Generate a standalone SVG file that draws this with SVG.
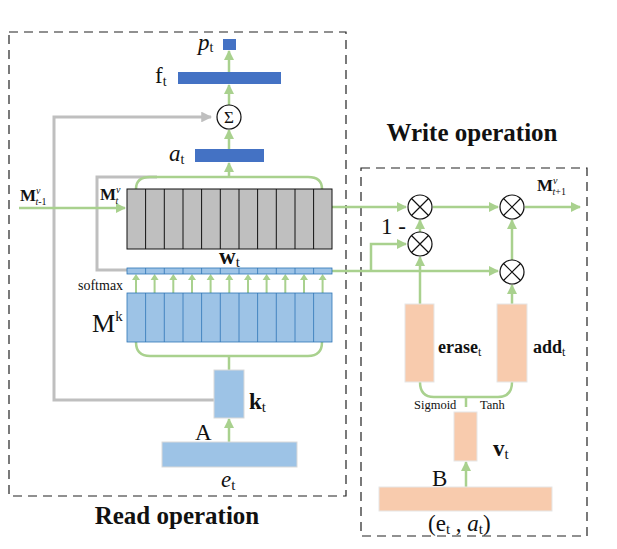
<svg xmlns="http://www.w3.org/2000/svg" width="617" height="549" viewBox="0 0 617 549" font-family="'Liberation Serif','Times New Roman',serif">
<style>
text{font-family:"Liberation Serif","Times New Roman",serif;fill:#111}
.b{font-weight:bold}
.g{stroke:#A9D18E;stroke-width:2.5;fill:none}
.gr{stroke:#BFBFBF;stroke-width:3;fill:none}
.dash{fill:none;stroke:#222;stroke-width:1.2;stroke-dasharray:9,6}
.dk{fill:#4472C4}
.lb{fill:#9DC3E6;stroke:#2E75B6;stroke-width:0.8}
.gy{fill:#BFBFBF;stroke:#111;stroke-width:1}
.pe{fill:#F8CBAD;stroke:#E6E6E6;stroke-width:1}
.op{fill:#fff;stroke:#111;stroke-width:1.2}
</style>
<defs>
<marker id="ag" viewBox="0 0 10 10" refX="9" refY="5" markerWidth="4" markerHeight="4" orient="auto" markerUnits="strokeWidth"><path d="M0,0L10,5L0,10z" fill="#A9D18E"/></marker>
<marker id="ay" viewBox="0 0 10 10" refX="9" refY="5" markerWidth="3.6" markerHeight="3.6" orient="auto" markerUnits="strokeWidth"><path d="M0,0L10,5L0,10z" fill="#BFBFBF"/></marker>
<g id="otimes"><circle r="12" class="op"/><path d="M-8.5,-8.5L8.5,8.5M8.5,-8.5L-8.5,8.5" stroke="#111" stroke-width="1.2"/></g>
</defs>

<rect class="dash" x="9" y="32" width="337" height="464"/>
<rect class="dash" x="361" y="168" width="226" height="368"/>
<text class="b" x="177" y="524" font-size="25" text-anchor="middle">Read operation</text>
<text class="b" x="472" y="141" font-size="25" text-anchor="middle">Write operation</text>

<g id="connectors">
<path class="gr" d="M214,400H54V117H211" marker-end="url(#ay)"/>
<path class="gr" d="M157,177H97V270H127"/>
<path class="g" d="M19,208H125" marker-end="url(#ag)"/>
<path class="g" d="M136,189Q136,177 150,177H308Q322,177 322,189"/>
<path class="g" d="M229,177V163" marker-end="url(#ag)"/>
<path class="g" d="M229,149V130" marker-end="url(#ag)"/>
<path class="g" d="M229,105V85" marker-end="url(#ag)"/>
<path class="g" d="M229,72V51" marker-end="url(#ag)"/>
<path class="g" d="M136,342Q136,356 150,356H308Q322,356 322,342"/>
<path class="g" d="M229,356V370"/>
<path class="g" d="M229,442V419" marker-end="url(#ag)"/>
<path d="M136,293V276M154.6,293V276M173.3,293V276M192,293V276M210.6,293V276M229.3,293V276M248,293V276M266.6,293V276M285.3,293V276M304,293V276M322.6,293V276" stroke="#A9D18E" stroke-width="2" fill="none"/>
<path fill="#A9D18E" d="M132,280L136,274L140,280zM150.6,280L154.6,274L158.6,280zM169.3,280L173.3,274L177.3,280zM188,280L192,274L196,280zM206.6,280L210.6,274L214.6,280zM225.3,280L229.3,274L233.3,280zM244,280L248,274L252,280zM262.6,280L266.6,274L270.6,280zM281.3,280L285.3,274L289.3,280zM300,280L304,274L308,280zM318.6,280L322.6,274L326.6,280z"/>
<path class="g" d="M332,207H406" marker-end="url(#ag)"/>
<path class="g" d="M332,271H498" marker-end="url(#ag)"/>
<path class="g" d="M371,271V244H406" marker-end="url(#ag)"/>
<path class="g" d="M420,232V220" marker-end="url(#ag)"/>
<path class="g" d="M433,207H498" marker-end="url(#ag)"/>
<path class="g" d="M525,207H580" marker-end="url(#ag)"/>
<path class="g" d="M512,260V220" marker-end="url(#ag)"/>
<path class="g" d="M420,304V257" marker-end="url(#ag)"/>
<path class="g" d="M512,304V285" marker-end="url(#ag)"/>
<path class="g" d="M420,382Q420,397 434,397H498Q512,397 512,382"/>
<path class="g" d="M466,397V407"/>
<path class="g" d="M466,487V462" marker-end="url(#ag)"/>
</g>

<g id="p_t"><rect class="dk" x="223" y="39" width="13" height="11"/><text x="198" y="50" font-size="23" font-style="italic">p<tspan font-size="14" font-style="normal" dy="2">t</tspan></text></g>
<g id="f_t"><rect class="dk" x="178" y="72" width="103" height="12"/><text x="155" y="83" font-size="23">f<tspan font-size="14" dy="3">t</tspan></text></g>
<g id="sum"><circle cx="229" cy="117" r="12" class="op"/><text x="229" y="123" font-size="17" text-anchor="middle">Σ</text></g>
<g id="a_t"><rect class="dk" x="195" y="149" width="69" height="13"/><text x="169" y="161" font-size="23" font-style="italic">a<tspan font-size="14" font-style="normal" dy="3">t</tspan></text></g>

<g id="Mv">
<rect class="gy" x="127" y="189" width="205" height="60"/>
<path d="M145.6,189V249M164.3,189V249M183,189V249M201.6,189V249M220.3,189V249M239,189V249M257.6,189V249M276.3,189V249M295,189V249M313.6,189V249" stroke="#111" stroke-width="1"/>
<text x="100" y="200" font-size="17" font-weight="bold">M<tspan font-size="10" font-weight="normal" font-style="italic" dx="0" dy="-7">v</tspan><tspan font-size="10" font-weight="normal" font-style="italic" dx="-5" dy="11">t</tspan></text>
<text x="20" y="201" font-size="17" font-weight="bold">M<tspan font-size="10" font-weight="normal" font-style="italic" dx="0" dy="-7">v</tspan><tspan font-size="10" font-weight="normal" dx="-5" dy="11"><tspan font-style="italic">t</tspan>-1</tspan></text>
</g>
<g id="w_t">
<rect x="127" y="268" width="205" height="6" fill="#9DC3E6" stroke="#2E75B6" stroke-width="0.8"/>
<path d="M145.6,268V274M164.3,268V274M183,268V274M201.6,268V274M220.3,268V274M239,268V274M257.6,268V274M276.3,268V274M295,268V274M313.6,268V274" stroke="#2E75B6" stroke-width="0.8"/>
<text class="b" x="219" y="264" font-size="23">w<tspan font-size="15" font-weight="normal" dy="3">t</tspan></text>
<text x="78" y="290" font-size="14">softmax</text>
</g>
<g id="Mk">
<rect class="lb" x="127" y="293" width="205" height="49"/>
<path d="M145.6,293V342M164.3,293V342M183,293V342M201.6,293V342M220.3,293V342M239,293V342M257.6,293V342M276.3,293V342M295,293V342M313.6,293V342" stroke="#2E75B6" stroke-width="0.8"/>
<text x="92" y="332" font-size="26">M<tspan font-size="15" dy="-11">k</tspan></text>
</g>
<g id="k_t"><rect x="214" y="370" width="30" height="48" fill="#9DC3E6" stroke="#D9D9D9"/><text class="b" x="249" y="409" font-size="23">k<tspan font-size="15" font-weight="normal" dy="3">t</tspan></text></g>
<g id="e_t"><rect x="162" y="442" width="135" height="25" fill="#9DC3E6" stroke="#D9D9D9"/><text x="195" y="440" font-size="23">A</text><text x="221" y="487" font-size="23" font-style="italic">e<tspan font-size="15" font-style="normal" dy="3">t</tspan></text></g>

<g id="mul1"><use href="#otimes" x="420" y="207"/></g>
<g id="mul2"><use href="#otimes" x="512" y="207"/><text x="537" y="191" font-size="17" font-weight="bold">M<tspan font-size="10" font-weight="normal" font-style="italic" dy="-7">v</tspan><tspan font-size="10" font-weight="normal" dx="-5" dy="11"><tspan font-style="italic">t</tspan>+1</tspan></text></g>
<g id="mul3"><use href="#otimes" x="420" y="244"/><text x="381" y="234" font-size="23">1 -</text></g>
<g id="mul4"><use href="#otimes" x="512" y="272"/></g>
<g id="erase"><rect class="pe" x="405" y="304" width="29" height="78"/><text class="b" x="438" y="353" font-size="18">erase<tspan font-size="12" font-weight="normal" dy="3">t</tspan></text><text x="414" y="409" font-size="12.5">Sigmoid</text></g>
<g id="add"><rect class="pe" x="497" y="304" width="30" height="78"/><text class="b" x="533" y="353" font-size="18">add<tspan font-size="12" font-weight="normal" dy="3">t</tspan></text><text x="480" y="409" font-size="12.5">Tanh</text></g>
<g id="v_t"><rect class="pe" x="454" y="412" width="23" height="49"/><text class="b" x="493" y="456" font-size="23">v<tspan font-size="15" font-weight="normal" dy="3">t</tspan></text></g>
<g id="B"><rect class="pe" x="379" y="487" width="173" height="24"/><text x="432" y="486" font-size="23">B</text><text x="428" y="531" font-size="23">(e<tspan font-size="15" dy="3">t</tspan><tspan dy="-3"> ,  </tspan><tspan font-style="italic">a</tspan><tspan font-size="15" dy="3">t</tspan><tspan dy="-3">)</tspan></text></g>
</svg>
